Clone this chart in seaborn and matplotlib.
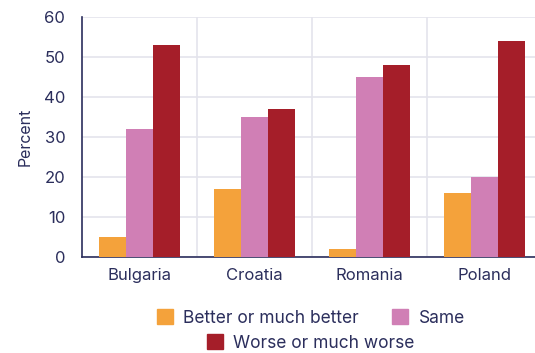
import matplotlib
matplotlib.use("Agg")
import matplotlib.pyplot as plt
import seaborn as sns
import pandas as pd
from matplotlib.patches import Patch

countries = ["Bulgaria", "Croatia", "Romania", "Poland"]
responses = ["Better or much better", "Same", "Worse or much worse"]
better = [5, 17, 2, 16]
same = [32, 35, 45, 20]
worse = [53, 37, 48, 54]
colors = ["#f4a23b", "#d07fb5", "#a51e29"]
text_color = "#2b2e5c"

rows = []
for vals, r in zip([better, same, worse], responses):
    for c, v in zip(countries, vals):
        rows.append({"country": c, "response": r, "value": v})
df = pd.DataFrame(rows)

sns.set_style("white")
plt.rcParams["font.family"] = ["Inter", "DejaVu Sans"]

fig = plt.figure(figsize=(5.35, 3.53), dpi=100)
ax = fig.add_axes([82/535, 96/353, 460/535, 240/353])
sns.barplot(data=df, x="country", y="value", hue="response", order=countries,
            hue_order=responses, palette=colors, width=0.7, saturation=1,
            ax=ax, legend=False, zorder=3, linewidth=0, edgecolor="none")

ax.set_ylim(0, 60)
ax.set_xlim(-0.5, 3.5)
ax.set_yticks(range(0, 61, 10))
ax.set_xticks(range(4))
ax.set_xticks([0.5, 1.5, 2.5], minor=True)
ax.grid(axis="y", which="major", color="#e4e4ec", lw=1.2, zorder=0)
ax.grid(axis="x", which="minor", color="#e4e4ec", lw=1.2, zorder=0)
ax.set_axisbelow(True)
for s in ["top", "right"]:
    ax.spines[s].set_visible(False)
for s in ["left", "bottom"]:
    ax.spines[s].set_color(text_color)
    ax.spines[s].set_linewidth(1.2)
ax.tick_params(axis="both", which="both", length=0, colors=text_color, labelsize=12)
ax.tick_params(axis="x", pad=8)
ax.tick_params(axis="y", pad=12)
ax.set_xlabel("")
ax.set_ylabel("Percent", color=text_color, fontsize=11.5, labelpad=8)

h = [Patch(color=c) for c in colors]
leg1 = fig.legend(h[:2], responses[:2], loc="center", bbox_to_anchor=(0.581, 1 - 318/353),
                  ncol=2, frameon=False, fontsize=12.5, handlelength=0.92, handleheight=0.92,
                  columnspacing=1.9, handletextpad=0.6, labelcolor=text_color)
leg2 = fig.legend(h[2:], responses[2:], loc="center", bbox_to_anchor=(0.581, 1 - 343/353),
                  ncol=1, frameon=False, fontsize=12.5, handlelength=0.92, handleheight=0.92,
                  handletextpad=0.6, labelcolor=text_color)

fig.savefig("out.png", dpi=100)
